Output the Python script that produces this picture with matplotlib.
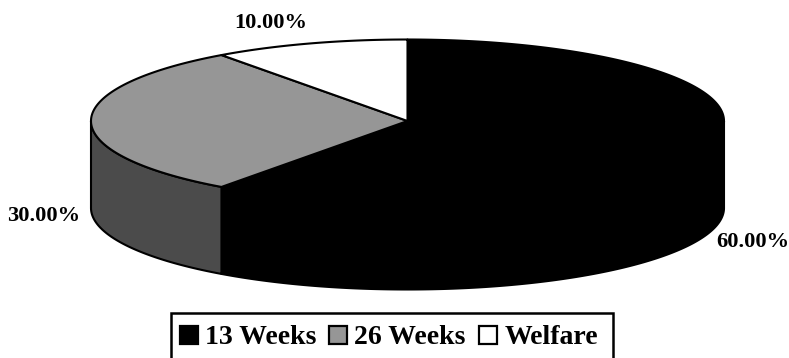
import numpy as np
import matplotlib
matplotlib.use("Agg")
import matplotlib.pyplot as plt
from matplotlib.patches import Polygon, Rectangle

labels = ["13 Weeks", "26 Weeks", "Welfare"]
shares = [60.0, 30.0, 10.0]
top_colors = ["#000000", "#969696", "#ffffff"]
side_colors = ["#000000", "#4b4b4b", "#ffffff"]
pct_labels = ["60.00%", "30.00%", "10.00%"]

W, H = 789, 358
cx, cy = 407.5, 121
rx, ry = 316.5, 81.5
depth = 87
edge = 1.5

plt.rcParams["font.family"] = ["Liberation Serif", "DejaVu Serif"]
fig = plt.figure(figsize=(W / 100, H / 100), dpi=100)
ax = fig.add_axes([0, 0, 1, 1])
ax.set_xlim(0, W)
ax.set_ylim(H, 0)
ax.axis("off")


def rim(a0, a1, n=200):
    # points along the ellipse, angles in degrees clockwise from 12 o'clock
    t = np.radians(np.linspace(a0, a1, n))
    return np.column_stack([cx + rx * np.sin(t), cy - ry * np.cos(t)])


# slice boundaries from the shares
ends = np.cumsum(shares) * 3.6
starts = ends - np.array(shares) * 3.6

# side walls first, only the front half of the ellipse is visible
for a0, a1, col in zip(starts, ends, side_colors):
    lo, hi = max(a0, 90), min(a1, 270)
    if lo >= hi:
        continue
    r = rim(lo, hi)
    wall = np.vstack([r, (r + [0, depth])[::-1]])
    ax.add_patch(Polygon(wall, closed=True, fc=col, ec="black", lw=edge, joinstyle="round"))

# top faces
for a0, a1, col in zip(starts, ends, top_colors):
    face = np.vstack([[cx, cy], rim(a0, a1)])
    ax.add_patch(Polygon(face, closed=True, fc=col, ec="black", lw=edge, joinstyle="round"))

# value labels
ax.text(270.5, 23, pct_labels[2], fontsize=16.2, fontweight="bold", ha="center", va="center")
ax.text(43.5, 216, pct_labels[1], fontsize=16.2, fontweight="bold", ha="center", va="center")
ax.text(752.5, 242, pct_labels[0], fontsize=16.2, fontweight="bold", ha="center", va="center", zorder=5)

# legend box runs off the bottom edge
ax.add_patch(Rectangle((171.5, 312.5), 441.5, 60, fc="white", ec="black", lw=1.8))
swatch_x = [180.5, 329.5, 479]
text_x = [205.5, 354, 505]
for sx, tx, lab, col in zip(swatch_x, text_x, labels, top_colors):
    ax.add_patch(Rectangle((sx, 325.5), 18, 18, fc=col, ec="black", lw=1.6))
    ax.text(tx, 337, lab, fontsize=20, fontweight="bold", ha="left", va="center")

fig.savefig("out.png", dpi=100, facecolor="white")
